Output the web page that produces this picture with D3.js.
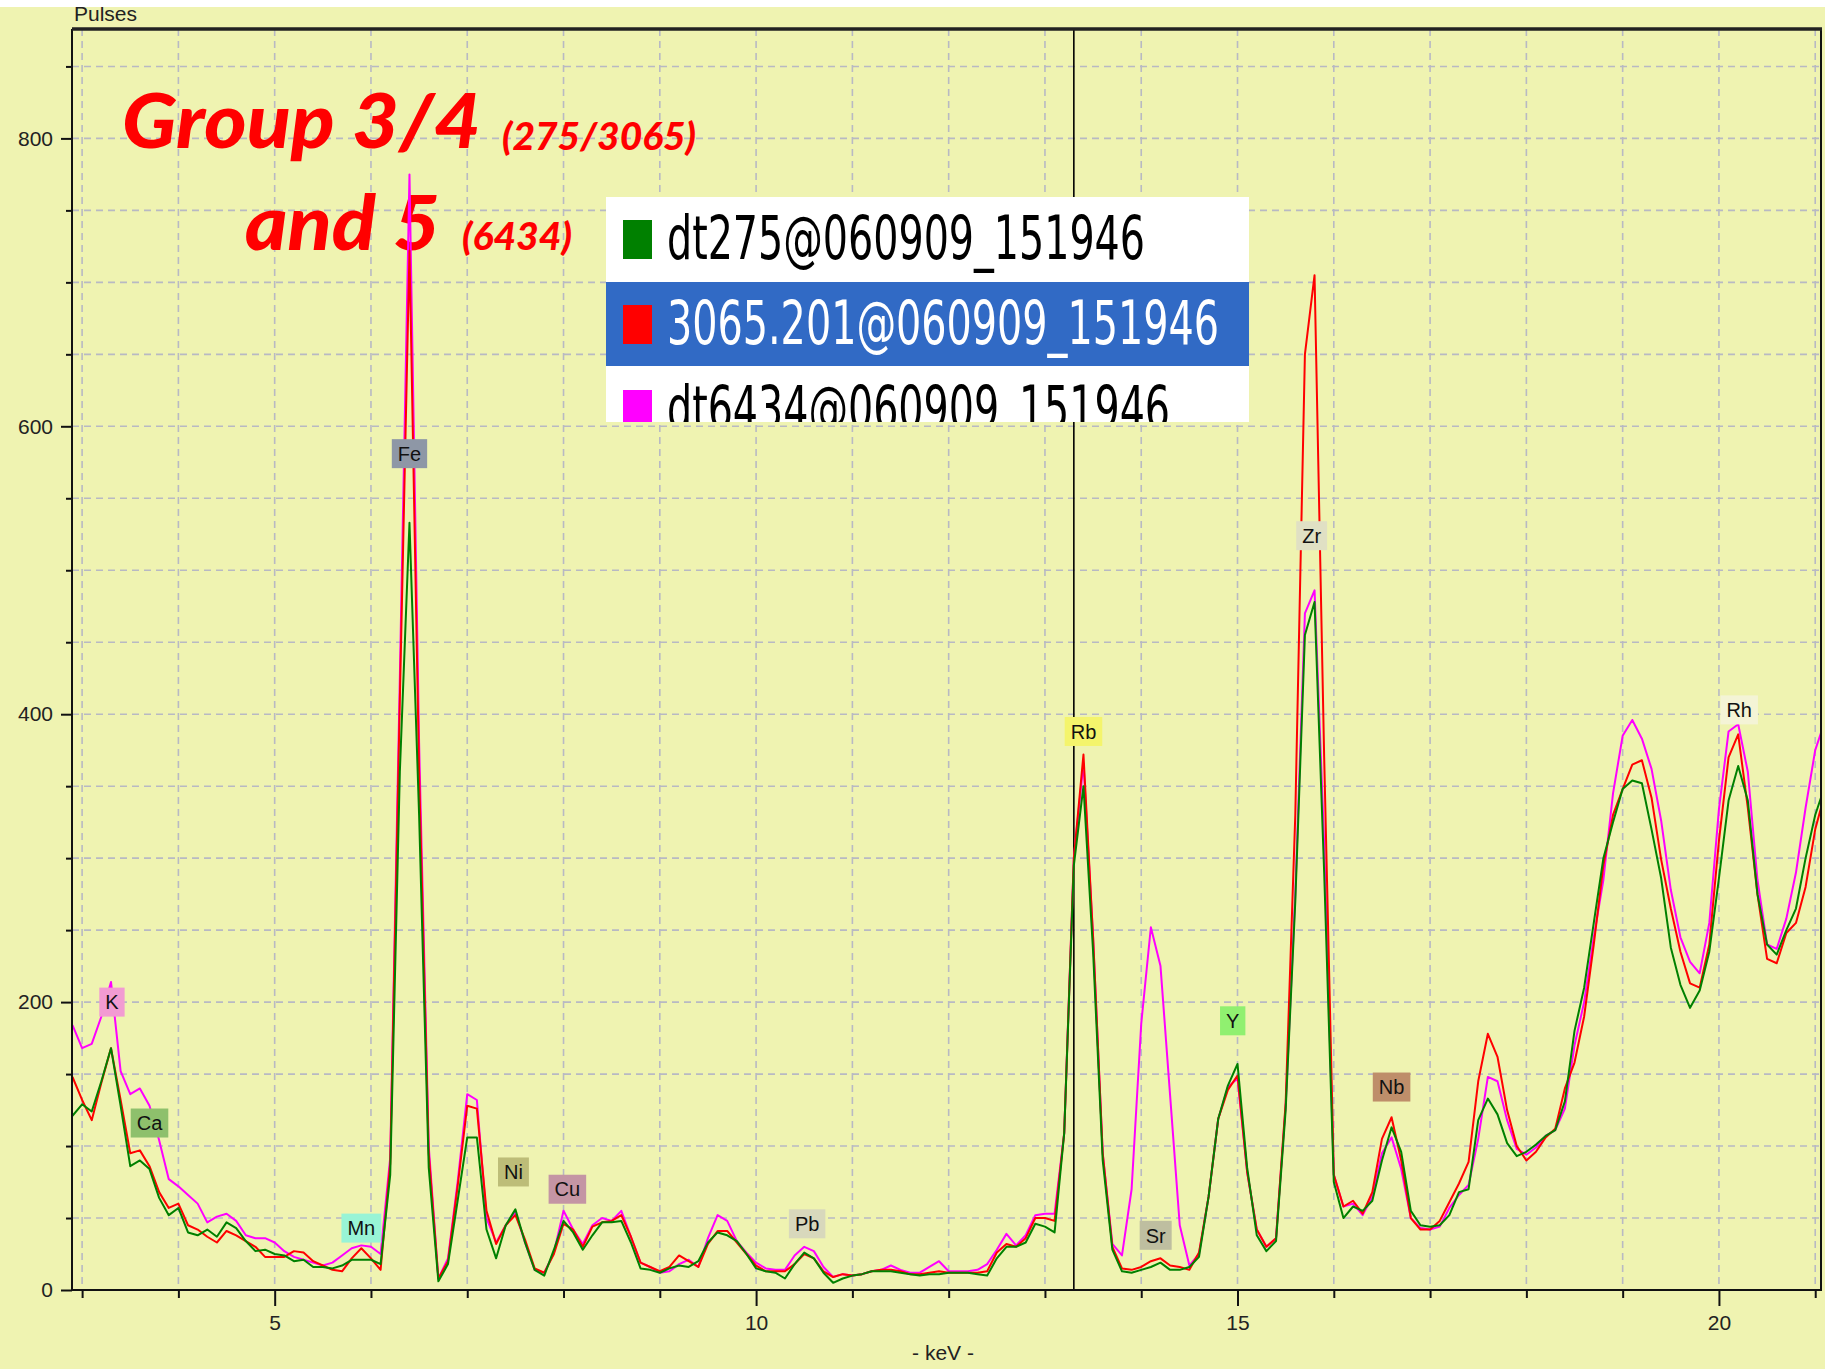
<!DOCTYPE html>
<html>
<head>
<meta charset="utf-8">
<script src="https://cdn.jsdelivr.net/npm/d3@7"></script>
<style>
  html, body { margin: 0; padding: 0; background: #eff3b1; }
  svg { display: block; }
</style>
</head>
<body>
<div id="chart"></div>
<script>
// XRF spectrum comparison: three samples, pulses vs keV

// channel grid (keV), 0.1 keV steps from 2.9 to 21.1
const keV = d3.range(183).map(i => +(2.9 + i * 0.1).toFixed(1));

// dt275@060909_151946 (green)
const dt275 = [
  121,
  129, 124, 145, 168, 128, 86, 90, 84, 64, 52,
  57, 40, 38, 42, 37, 47, 43, 34, 27, 28,
  25, 24, 20, 21, 16, 16, 15, 17, 21, 21,
  21, 18, 80, 360, 533, 330, 85, 6, 18, 62,
  106, 106, 42, 22, 45, 56, 33, 14, 10, 28,
  48, 40, 28, 38, 47, 47, 48, 33, 15, 14,
  12, 15, 17, 16, 20, 33, 40, 38, 34, 25,
  15, 13, 12, 8, 18, 26, 22, 12, 5, 8,
  10, 11, 13, 13, 13, 12, 11, 10, 11, 11,
  12, 12, 12, 11, 10, 22, 30, 30, 33, 46,
  44, 40, 109, 295, 350, 235, 90, 28, 13, 12,
  14, 16, 19, 14, 14, 16, 23, 65, 119, 142,
  157, 85, 38, 27, 34, 125, 270, 455, 478, 290,
  75, 50, 58, 55, 62, 90, 113, 96, 55, 45,
  44, 45, 52, 68, 70, 118, 133, 122, 102, 93,
  96, 101, 107, 111, 131, 180, 210, 255, 300, 325,
  348, 354, 352, 320, 286, 238, 212, 196, 208, 235,
  286, 340, 364, 340, 275, 240, 233, 250, 265, 300,
  330, 350
];

// 3065.201@060909_151946 (red)
const s3065 = [
  148,
  132, 118, 144, 168, 132, 95, 97, 86, 68, 57,
  60, 45, 42, 37, 33, 41, 38, 34, 30, 23,
  23, 23, 27, 26, 20, 17, 14, 13, 22, 29,
  22, 14, 88, 410, 722, 360, 95, 8, 20, 72,
  128, 126, 55, 32, 45, 52, 35, 15, 12, 25,
  46, 42, 30, 44, 47, 48, 52, 37, 19, 16,
  13, 16, 24, 20, 16, 32, 41, 41, 33, 25,
  17, 13, 13, 13, 18, 25, 22, 13, 9, 11,
  10, 11, 13, 14, 14, 13, 11, 11, 12, 13,
  12, 12, 12, 12, 13, 26, 32, 30, 36, 50,
  50, 48, 109, 300, 372, 245, 95, 30, 15, 14,
  16, 20, 22, 17, 16, 14, 26, 65, 119, 139,
  149, 82, 42, 30, 36, 130, 330, 650, 705, 370,
  80, 58, 62, 53, 68, 105, 120, 90, 50, 42,
  42, 48, 61, 74, 89, 145, 178, 162, 125, 100,
  90, 96, 106, 112, 140, 158, 190, 240, 295, 330,
  348, 365, 368, 342, 299, 265, 235, 213, 210, 240,
  312, 370, 386, 335, 275, 230, 227, 248, 255, 280,
  320, 345
];

// dt6434@060909_151946 (magenta)
const dt6434 = [
  184,
  168, 171, 190, 214, 152, 136, 140, 128, 104, 77,
  72, 66, 60, 47, 51, 53, 48, 38, 36, 36,
  33, 27, 23, 21, 19, 17, 19, 24, 29, 31,
  30, 25, 92, 426, 775, 380, 100, 8, 22, 75,
  136, 132, 50, 33, 45, 54, 33, 14, 12, 26,
  55, 42, 32, 45, 50, 48, 55, 37, 19, 16,
  12, 13, 18, 21, 16, 36, 52, 48, 34, 26,
  19, 15, 14, 14, 24, 30, 27, 16, 9, 11,
  10, 11, 13, 14, 17, 14, 12, 12, 16, 20,
  13, 13, 13, 14, 18, 28, 39, 31, 38, 52,
  53, 53, 109, 300, 366, 245, 95, 32, 24, 70,
  185, 252, 225, 135, 45, 17, 25, 65, 119, 141,
  147, 82, 42, 30, 36, 128, 275, 470, 486, 310,
  80, 58, 60, 52, 65, 95, 106, 84, 50, 43,
  42, 44, 57, 66, 73, 105, 148, 145, 118, 98,
  94, 99, 107, 111, 126, 170, 200, 245, 285, 345,
  385, 396, 383, 362, 326, 278, 245, 228, 220, 255,
  334, 388, 393, 360, 285, 240, 237, 258, 290, 335,
  375, 395
];

const seriesNames = ["dt275@060909_151946", "3065.201@060909_151946", "dt6434@060909_151946"];
const seriesColors = ["#008000", "#ff0000", "#ff00ff"];

// element markers
const elements = ["K", "Ca", "Mn", "Fe", "Ni", "Cu", "Pb", "Rb", "Sr", "Y", "Zr", "Nb", "Rh"];
const elementKeV = [3.31, 3.70, 5.90, 6.40, 7.48, 8.04, 10.53, 13.40, 14.15, 14.95, 15.77, 16.60, 20.21];
const elementPulses = [200, 116, 43, 581, 82, 70, 46, 388, 38, 187, 524, 141, 403];
const elementColors = ["#f29bd2", "#8ec06c", "#98f4d6", "#8e97a6", "#bdbd78", "#c495a4", "#d8d8bc",
                       "#f4f46c", "#bebea0", "#90f070", "#e0e0c4", "#be8e6a", "#f4f4d6"];

const yMajor = [0, 200, 400, 600, 800];
const xMajor = [5, 10, 15, 20];
const cursorKeV = 13.3;

const W = 1825, H = 1369;
const plotLeft = 72, plotTop = 29, plotRight = 1821, plotBottom = 1290;

const x = d3.scaleLinear().domain([2.895, 21.06]).range([plotLeft, plotRight]);
const y = d3.scaleLinear().domain([0, 876]).range([plotBottom, plotTop]);

const svg = d3.select("#chart").append("svg")
    .attr("width", W)
    .attr("height", H)
    .style("font-family", "'Liberation Sans', Arial, sans-serif");

svg.append("rect").attr("width", W).attr("height", H).attr("fill", "#eff3b1");

// dashed grid
const grid = svg.append("g")
    .attr("stroke", "#b8b9c3")
    .attr("stroke-width", 1.6)
    .attr("stroke-dasharray", "7,5");

grid.selectAll("line.h")
    .data(d3.range(50, 900, 50))
    .join("line")
    .attr("class", "h")
    .attr("x1", plotLeft).attr("x2", plotRight)
    .attr("y1", d => y(d)).attr("y2", d => y(d));

grid.selectAll("line.v")
    .data(d3.range(3, 22))
    .join("line")
    .attr("class", "v")
    .attr("y1", plotTop).attr("y2", plotBottom)
    .attr("x1", d => x(d)).attr("x2", d => x(d));

// title text (lines are drawn over it)
const title = svg.append("g").attr("fill", "#ff0000")
    .style("font-family", "Lato, 'Open Sans', sans-serif")
    .style("font-weight", 900)
    .style("font-style", "italic");

title.append("text").attr("x", 122).attr("y", 148).attr("font-size", 76)
    .attr("textLength", 359).attr("lengthAdjust", "spacingAndGlyphs").text("Group 3/4");
title.append("text").attr("x", 502).attr("y", 150).attr("font-size", 37)
    .attr("textLength", 194).attr("lengthAdjust", "spacingAndGlyphs").text("(275/3065)");
title.append("text").attr("x", 245).attr("y", 250).attr("font-size", 76)
    .attr("textLength", 195).attr("lengthAdjust", "spacingAndGlyphs").text("and 5");
title.append("text").attr("x", 462).attr("y", 250).attr("font-size", 37)
    .attr("textLength", 110).attr("lengthAdjust", "spacingAndGlyphs").text("(6434)");

// cursor line
svg.append("line")
    .attr("x1", x(cursorKeV)).attr("x2", x(cursorKeV))
    .attr("y1", plotTop).attr("y2", plotBottom)
    .attr("stroke", "#000").attr("stroke-width", 1.6);

// spectra
svg.append("clipPath").attr("id", "plot-clip")
    .append("rect").attr("x", plotLeft).attr("y", plotTop)
    .attr("width", plotRight - plotLeft).attr("height", plotBottom - plotTop);

const line = d3.line()
    .x((d, i) => x(keV[i]))
    .y(d => y(d));

const drawOrder = [dt6434, s3065, dt275];
const drawColors = [seriesColors[2], seriesColors[1], seriesColors[0]];

svg.append("g").attr("clip-path", "url(#plot-clip)")
    .selectAll("path")
    .data(drawOrder)
    .join("path")
    .attr("d", d => line(d))
    .attr("fill", "none")
    .attr("stroke", (d, i) => drawColors[i])
    .attr("stroke-width", 2)
    .attr("stroke-linejoin", "round");

// element labels
const tags = svg.append("g").selectAll("g")
    .data(elements)
    .join("g")
    .attr("transform", (d, i) => `translate(${x(elementKeV[i])},${y(elementPulses[i])})`);

tags.append("text")
    .attr("text-anchor", "middle")
    .attr("dy", "0.36em")
    .attr("font-size", 20)
    .attr("fill", "#111")
    .text(d => d);

tags.insert("rect", "text")
    .attr("fill", (d, i) => elementColors[i])
    .each(function () {
        const w = this.parentNode.querySelector("text").getComputedTextLength() + 12;
        d3.select(this).attr("x", -w / 2).attr("width", w).attr("y", -14.5).attr("height", 29);
    });

// axes
const axisText = g => g.selectAll("text")
    .attr("font-size", 21)
    .attr("fill", "#222")
    .style("font-family", "'Liberation Sans', Arial, sans-serif");

svg.append("g")
    .attr("transform", `translate(${plotLeft},0)`)
    .call(d3.axisLeft(y).tickValues(yMajor).tickSize(11).tickPadding(8))
    .call(g => g.select(".domain").remove())
    .call(g => g.selectAll("line").attr("stroke", "#111").attr("stroke-width", 2))
    .call(axisText);

svg.append("g")
    .attr("transform", `translate(${plotLeft},0)`)
    .call(d3.axisLeft(y).tickValues(d3.range(50, 900, 50).filter(v => v % 200 !== 0)).tickSize(6).tickFormat(""))
    .call(g => g.select(".domain").remove())
    .call(g => g.selectAll("line").attr("stroke", "#111").attr("stroke-width", 2));

svg.append("g")
    .attr("transform", `translate(0,${plotBottom})`)
    .call(d3.axisBottom(x).tickValues(xMajor).tickSize(16).tickPadding(9).tickFormat(d3.format("d")))
    .call(g => g.select(".domain").remove())
    .call(g => g.selectAll("line").attr("stroke", "#111").attr("stroke-width", 2))
    .call(axisText);

svg.append("g")
    .attr("transform", `translate(0,${plotBottom})`)
    .call(d3.axisBottom(x).tickValues(d3.range(3, 22).filter(v => v % 5 !== 0)).tickSize(8).tickFormat(""))
    .call(g => g.select(".domain").remove())
    .call(g => g.selectAll("line").attr("stroke", "#111").attr("stroke-width", 2));

// frame
svg.append("path")
    .attr("d", `M${plotLeft},${plotTop}V${plotBottom}H${plotRight}V${plotTop}`)
    .attr("fill", "none").attr("stroke", "#111").attr("stroke-width", 2);
svg.append("line")
    .attr("x1", plotLeft).attr("x2", plotRight + 1).attr("y1", plotTop).attr("y2", plotTop)
    .attr("stroke", "#222").attr("stroke-width", 3.5);

// axis titles
svg.append("text").attr("x", 943).attr("y", 1360).attr("text-anchor", "middle")
    .attr("font-size", 21).attr("fill", "#222").text("- keV -");
svg.append("text").attr("x", 74).attr("y", 21)
    .attr("font-size", 21).attr("fill", "#222").text("Pulses");

// white strip at the very top, clipping the "Pulses" label
svg.append("rect").attr("width", W).attr("height", 7).attr("fill", "#fff");

// legend (scrolled list, third row cut off)
const legendBox = { x: 606, y: 197, w: 643, h: 225 };
svg.append("clipPath").attr("id", "legend-clip")
    .append("rect").attr("x", legendBox.x).attr("y", legendBox.y)
    .attr("width", legendBox.w).attr("height", legendBox.h);

const legend = svg.append("g").attr("clip-path", "url(#legend-clip)");
legend.append("rect")
    .attr("x", legendBox.x).attr("y", legendBox.y)
    .attr("width", legendBox.w).attr("height", legendBox.h)
    .attr("fill", "#fff");

const rowTop = [197, 282, 366];
const rowHeight = 84;
const rowBaseline = [259, 344, 429];
const rowTextWidth = [478, 552, 503];

legend.selectAll("rect.row")
    .data(seriesNames)
    .join("rect")
    .attr("class", "row")
    .attr("x", legendBox.x).attr("y", (d, i) => rowTop[i])
    .attr("width", legendBox.w).attr("height", rowHeight)
    .attr("fill", (d, i) => i === 1 ? "#316ac5" : "#fff");

legend.selectAll("rect.swatch")
    .data(seriesNames)
    .join("rect")
    .attr("class", "swatch")
    .attr("x", 623).attr("y", (d, i) => rowBaseline[i] - 39)
    .attr("width", 29).attr("height", 39)
    .attr("fill", (d, i) => seriesColors[i]);

legend.selectAll("text")
    .data(seriesNames)
    .join("text")
    .attr("x", 667).attr("y", (d, i) => rowBaseline[i])
    .attr("font-size", 61)
    .style("font-family", "'Liberation Sans Narrow', 'DejaVu Sans Condensed', sans-serif")
    .attr("textLength", (d, i) => rowTextWidth[i])
    .attr("lengthAdjust", "spacingAndGlyphs")
    .attr("fill", (d, i) => i === 1 ? "#fff" : "#000")
    .text(d => d);
</script>
</body>
</html>
